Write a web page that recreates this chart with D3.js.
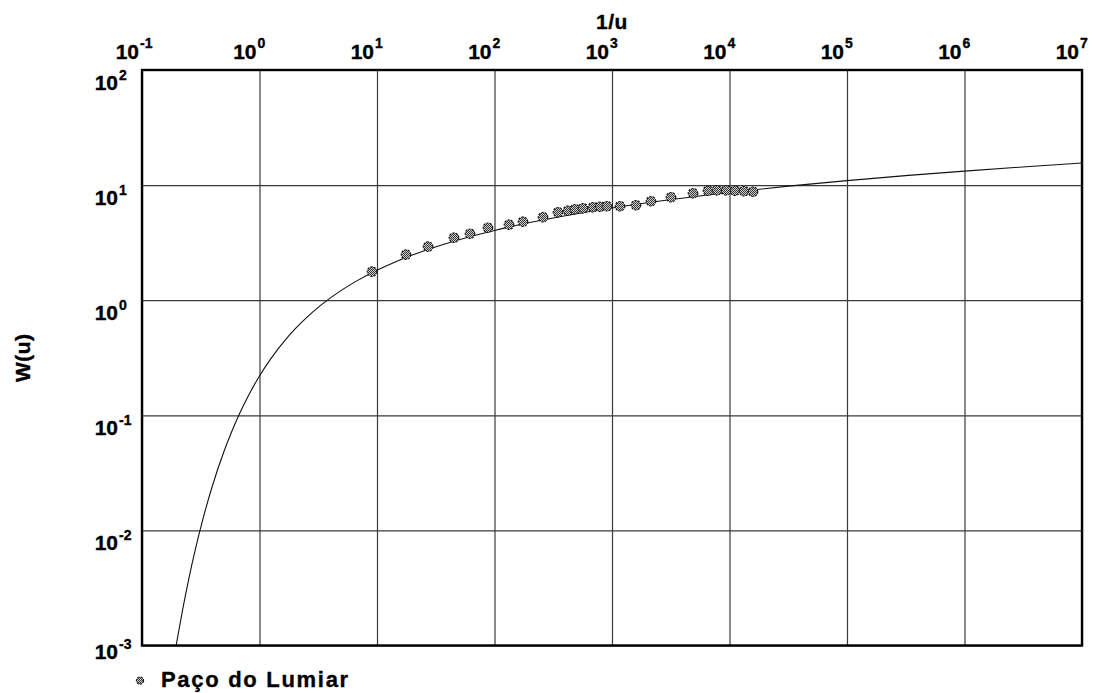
<!DOCTYPE html>
<html>
<head>
<meta charset="utf-8">
<script src="https://cdn.jsdelivr.net/npm/d3@7/dist/d3.min.js"></script>
<style>
  html, body { margin: 0; padding: 0; background: #fff; }
  svg { display: block; }
  text { font-family: "Liberation Sans", Arial, sans-serif; font-weight: bold; fill: #000; }
</style>
</head>
<body>
<svg id="chart" width="1095" height="693"></svg>
<script>
// ---- Data ----
const xTickExps = [-1, 0, 1, 2, 3, 4, 5, 6, 7];
const yTickExps = [-3, -2, -1, 0, 1, 2];
const xTitle = "1/u";
const yTitle = "W(u)";
const seriesName = "Paço do Lumiar";

// Theis type curve W(u) vs 1/u
const curveInvU = [0.19, 0.2, 0.2222, 0.25, 0.2857, 0.3333, 0.4, 0.5, 0.5714, 0.6667, 0.8, 1, 1.25,
  1.6667, 2, 2.5, 3.3333, 5, 6.6667, 10, 14.286, 20, 33.333, 50, 100, 200, 500, 1000, 3333,
  10000, 33333, 100000, 333333, 1000000, 3333333, 10000000];
const curveW = [0.00085, 0.001148, 0.002073, 0.003779, 0.00697, 0.01305, 0.02491, 0.0489, 0.0695,
  0.1, 0.1464, 0.2194, 0.3106, 0.4544, 0.5598, 0.7024, 0.9057, 1.2227, 1.4645, 1.8229, 2.1508,
  2.4679, 2.9591, 3.3547, 4.0379, 4.7261, 5.6394, 6.3315, 7.5348, 8.6332, 9.8371, 10.9357,
  12.1397, 13.2383, 14.4423, 15.5409];

// Observed points (Paço do Lumiar)
const obsInvU = [9.07, 17.65, 27.2, 45.2, 61.9, 88.0, 132.9, 174.8, 258.7, 347, 422, 484, 567,
  689, 791, 907, 1170, 1600, 2147, 3178, 4892, 6561, 7826, 9338, 11140, 13290, 15850];
const obsW = [1.77, 2.49, 2.92, 3.49, 3.78, 4.26, 4.53, 4.81, 5.26, 5.81, 5.99, 6.17, 6.29,
  6.42, 6.48, 6.55, 6.55, 6.68, 7.24, 7.84, 8.49, 8.93, 9.01, 9.01, 8.93, 8.84, 8.75];

// ---- Layout ----
const L = 142, R = 1082, T = 70, B = 645.5;
const svg = d3.select("#chart");

const x = d3.scaleLog().domain([0.1, 1e7]).range([L, R]);
const y = d3.scaleLog().domain([1e-3, 1e2]).range([B, T]);

const xTicks = xTickExps.map(e => Math.pow(10, e));
const yTicks = yTickExps.map(e => Math.pow(10, e));

// pattern for markers
const defs = svg.append("defs");
const pat = defs.append("pattern").attr("id", "dots").attr("width", 2).attr("height", 2)
  .attr("patternUnits", "userSpaceOnUse");
pat.append("rect").attr("width", 2).attr("height", 2).attr("fill", "#c8c8c8");
pat.append("rect").attr("width", 1).attr("height", 1).attr("fill", "#3a3a3a");
pat.append("rect").attr("x", 1).attr("y", 1).attr("width", 1).attr("height", 1).attr("fill", "#3a3a3a");
defs.append("clipPath").attr("id", "clip").append("rect")
  .attr("x", L).attr("y", T).attr("width", R - L).attr("height", B - T);

// grid via axes
const gx = svg.append("g").attr("transform", `translate(0,${B})`)
  .call(d3.axisBottom(x).tickValues(xTicks).tickSize(-(B - T)).tickFormat(""));
const gy = svg.append("g").attr("transform", `translate(${L},0)`)
  .call(d3.axisLeft(y).tickValues(yTicks).tickSize(-(R - L)).tickFormat(""));
[gx, gy].forEach(g => {
  g.select(".domain").remove();
  g.selectAll(".tick line").attr("stroke", "#3a3a3a").attr("stroke-width", 1.2);
});

// curve
const line = d3.line().x(d => x(d[0])).y(d => y(d[1])).curve(d3.curveMonotoneX);
svg.append("path").datum(curveInvU.map((v, i) => [v, curveW[i]]))
  .attr("clip-path", "url(#clip)")
  .attr("d", line).attr("fill", "none").attr("stroke", "#111").attr("stroke-width", 1.1);

// markers
function marker(sel, r) {
  sel.attr("r", r).attr("fill", "url(#dots)").attr("stroke", "#111")
    .attr("stroke-width", 1.1).attr("stroke-dasharray", "2.2,1.2");
}
svg.append("g").selectAll("circle").data(obsInvU.map((v, i) => [v, obsW[i]])).join("circle")
  .attr("cx", d => x(d[0])).attr("cy", d => y(d[1])).call(marker, 4.8);

// frame
svg.append("rect").attr("x", L).attr("y", T).attr("width", R - L).attr("height", B - T)
  .attr("fill", "none").attr("stroke", "#000").attr("stroke-width", 2.4);

// text helper: slight stroke to mimic heavy aliased bold
function heavy(sel) { return sel.attr("stroke", "#000").attr("stroke-width", 0.35); }

// x tick labels (top)
xTickExps.forEach(e => {
  const px = x(Math.pow(10, e));
  svg.append("text").attr("x", px - 3).attr("y", 59).attr("text-anchor", "end")
    .style("font-size", "21px").call(heavy).text("10");
  svg.append("text").attr("x", px - 2).attr("y", 48).style("font-size", "14px").call(heavy).text(String(e));
});

// y tick labels (left)
yTickExps.forEach(e => {
  const py = Math.min(y(Math.pow(10, e)) + 20, 659);
  svg.append("text").attr("x", 118).attr("y", py).attr("text-anchor", "end")
    .style("font-size", "21px").call(heavy).text("10");
  svg.append("text").attr("x", 119).attr("y", py - 10).style("font-size", "14px").call(heavy).text(String(e));
});

// titles
svg.append("text").attr("x", x(1000)).attr("y", 29).attr("text-anchor", "middle")
  .style("font-size", "21px").style("letter-spacing", "0.5px").call(heavy).text(xTitle);
svg.append("text").attr("transform", `translate(30,${(T + B) / 2}) rotate(-90)`)
  .attr("text-anchor", "middle").style("font-size", "21px").style("letter-spacing", "0.5px")
  .call(heavy).text(yTitle);

// legend
svg.append("circle").attr("cx", 140).attr("cy", 680.5).call(marker, 3.6);
svg.append("text").attr("x", 161).attr("y", 687).style("font-size", "22px")
  .style("letter-spacing", "1.7px").call(heavy).text(seriesName);
</script>
</body>
</html>
